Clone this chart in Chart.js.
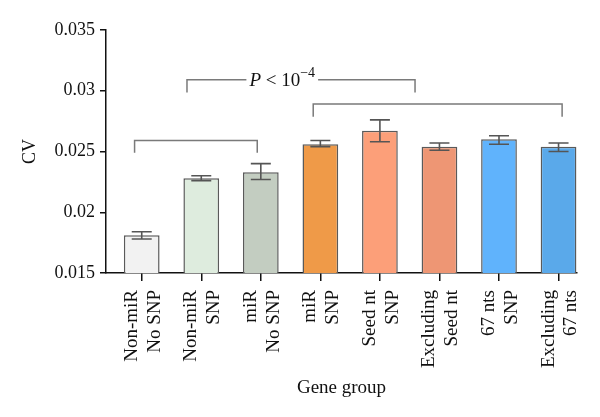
<!DOCTYPE html>
<html>
<head>
<meta charset="utf-8">
<script src="https://cdn.jsdelivr.net/npm/chart.js@4/dist/chart.umd.min.js"></script>
<style>
    html, body { margin: 0; padding: 0; background: #fff; }
    #wrap { width: 600px; height: 417px; }
</style>
</head>
<body>
<div id="wrap"><canvas id="grafica"></canvas></div>
<script>
/* values */
const grupos = [
    ['Non-miR', 'No SNP'],
    ['Non-miR', 'SNP'],
    ['miR', 'No SNP'],
    ['miR', 'SNP'],
    ['Seed nt', 'SNP'],
    ['Excluding', 'Seed nt'],
    ['67 nts', 'SNP'],
    ['Excluding', '67 nts']
];
const cv_media = [0.0181, 0.0228, 0.0233, 0.0256, 0.0267, 0.0254, 0.0260, 0.0254];
const cv_alto  = [0.0184, 0.0230, 0.0240, 0.0259, 0.0276, 0.0257, 0.0263, 0.0257];
const cv_bajo  = [0.0178, 0.0226, 0.0227, 0.0254, 0.0258, 0.0251, 0.0256, 0.0250];
const colores  = ['#f2f2f2', '#deecde', '#c3cdc1', '#ef9a48', '#fc9f79', '#ee9674', '#60b3fc', '#5aa9ea'];
const y_ticks  = [0.015, 0.02, 0.025, 0.03, 0.035];

/* significance brackets: from / to group index, bar height and leg end */
const llave_desde = [-0.12, 0.76, 2.88];
const llave_hasta = [1.94, 4.59, 7.06];
const llave_y     = [0.0259, 0.0309, 0.0289];
const llave_pata  = [0.0249, 0.02985, 0.02785];
const texto_p_x   = 2.36;   /* group index where the P label is centred, on bracket 2 */

const SERIF = "'Liberation Serif', 'DejaVu Serif', serif";

/* error bars and brackets drawn on top of the bars */
const extras = {
    id: 'extras',
    afterDatasetsDraw(chart) {
        const ctx = chart.ctx;
        const x = chart.scales.x;
        const y = chart.scales.y;

        ctx.save();
        ctx.strokeStyle = '#555';
        ctx.lineWidth = 1.6;
        cv_media.forEach((v, i) => {
            const cx = x.getPixelForValue(i);
            const y1 = y.getPixelForValue(cv_alto[i]);
            const y2 = y.getPixelForValue(cv_bajo[i]);
            ctx.beginPath();
            ctx.moveTo(cx, y1); ctx.lineTo(cx, y2);
            ctx.moveTo(cx - 10, y1); ctx.lineTo(cx + 10, y1);
            ctx.moveTo(cx - 10, y2); ctx.lineTo(cx + 10, y2);
            ctx.stroke();
        });

        ctx.strokeStyle = '#7a7a7a';
        ctx.lineWidth = 1.5;
        llave_desde.forEach((d, i) => {
            const xa = x.getPixelForValue(d);
            const xb = x.getPixelForValue(llave_hasta[i]);
            const yt = y.getPixelForValue(llave_y[i]);
            const yp = y.getPixelForValue(llave_pata[i]);
            ctx.beginPath();
            ctx.moveTo(xa, yp); ctx.lineTo(xa, yt); ctx.lineTo(xb, yt); ctx.lineTo(xb, yp);
            ctx.stroke();
        });

        /* P < 10^-4 label over the second bracket */
        const tx = x.getPixelForValue(texto_p_x);
        const ty = y.getPixelForValue(llave_y[1]);
        ctx.font = "italic 19px " + SERIF;
        const w1 = ctx.measureText('P').width;
        ctx.font = "19px " + SERIF;
        const w2 = ctx.measureText(' < 10').width;
        ctx.font = "14px " + SERIF;
        const w3 = ctx.measureText('\u22124').width;
        const total = w1 + w2 + w3;
        const x0 = tx - total / 2;
        ctx.fillStyle = '#fff';
        ctx.fillRect(x0 - 3, ty - 14, total + 6, 24);
        ctx.fillStyle = '#111';
        ctx.textBaseline = 'alphabetic';
        ctx.textAlign = 'left';
        ctx.font = "italic 19px " + SERIF;
        ctx.fillText('P', x0, ty + 6);
        ctx.font = "19px " + SERIF;
        ctx.fillText(' < 10', x0 + w1, ty + 6);
        ctx.font = "14px " + SERIF;
        ctx.fillText('\u22124', x0 + w1 + w2, ty - 3);
        ctx.restore();
    }
};

new Chart(document.getElementById('grafica'), {
    type: 'bar',
    data: {
        datasets: [{
            data: cv_media.map((v, i) => ({ x: i, y: v })),
            backgroundColor: colores,
            borderColor: '#5a5a5a',
            borderWidth: 1.5,
            borderSkipped: 'bottom',
            barPercentage: 0.6,
            categoryPercentage: 1
        }]
    },
    options: {
        responsive: true,
        maintainAspectRatio: false,
        animation: false,
        layout: { padding: { top: 30, right: 23, bottom: 0, left: 0 } },
        plugins: { legend: { display: false }, tooltip: { enabled: false } },
        scales: {
            x: {
                type: 'linear',
                offset: false,
                min: -0.6,
                max: 7.31,
                /* fixed height and no extra side padding for the rotated labels */
                afterFit: s => { s.height = 144; s.paddingLeft = 0; s.paddingRight = 0; },
                afterBuildTicks: s => { s.ticks = grupos.map((g, i) => ({ value: i })); },
                ticks: {
                    autoSkip: false,
                    minRotation: 90,
                    maxRotation: 90,
                    padding: 9,
                    labelOffset: -10,
                    color: '#111',
                    font: { family: SERIF, size: 19 },
                    callback: v => grupos[v]
                },
                grid: { drawOnChartArea: false, offset: false, tickLength: 8, color: '#111', lineWidth: 1.5 },
                border: { color: '#111', width: 1.5 },
                title: {
                    display: true,
                    text: 'Gene group',
                    color: '#111',
                    font: { family: SERIF, size: 19 },
                    padding: { top: 0, bottom: 18 }
                }
            },
            y: {
                min: 0.015,
                max: 0.035,
                afterFit: s => { s.width = 106; s.paddingTop = 0; s.paddingBottom = 0; },
                afterBuildTicks: s => { s.ticks = y_ticks.map(v => ({ value: v })); },
                ticks: {
                    padding: 5,
                    color: '#111',
                    font: { family: SERIF, size: 18 },
                    callback: v => String(+v.toFixed(3))
                },
                grid: { drawOnChartArea: false, tickLength: 6, color: '#111', lineWidth: 1.5 },
                border: { color: '#111', width: 1.5 },
                title: {
                    display: true,
                    text: 'CV',
                    color: '#111',
                    font: { family: SERIF, size: 18 },
                    padding: { top: 19, bottom: 0 }
                }
            }
        }
    },
    plugins: [extras]
});
</script>
</body>
</html>
